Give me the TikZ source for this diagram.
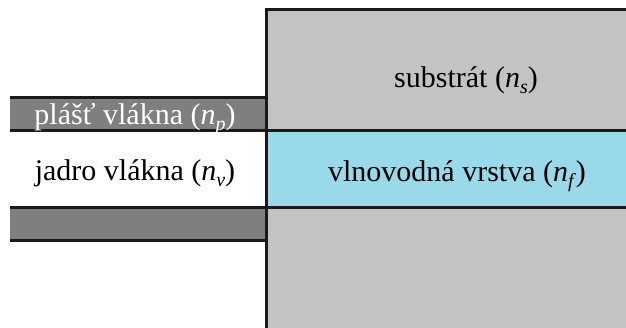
\documentclass[tikz,border=0pt]{standalone}
\usepackage{fontspec}
\setmainfont{Liberation Serif}
\newfontfamily\timesfam{Liberation Serif}
\definecolor{cladgray}{HTML}{7F7F7F}
\definecolor{subgray}{HTML}{C3C3C3}
\definecolor{filmblue}{HTML}{99D9EA}
\definecolor{edge}{HTML}{1A1A1A}
% italic symbol with a lowered italic index
\newcommand{\ridx}[2]{\textit{#1}\raisebox{-0.22em}{\fontsize{20}{24}\selectfont\textit{#2}}}
\tikzset{
  border/.style={draw=edge, line width=3pt},
  regiontext/.style={anchor=base, inner sep=0pt, font=\timesfam\fontsize{30}{36}\selectfont}
}
\begin{document}
\begin{tikzpicture}[x=1pt, y=-1pt]
\useasboundingbox (0,0) rectangle (626,327);
% substrate block and guiding film
\fill[subgray] (266,9) rectangle (627,328);
\fill[filmblue] (266,130) rectangle (627,207);
% fibre cladding bands
\fill[cladgray] (10,97) rectangle (266,130);
\fill[cladgray] (10,207) rectangle (266,240);
% outlines
\coordinate (tl) at (266,9);
\coordinate (tr) at (627,9);
\coordinate (bl) at (266,328);
\draw[border] (tr) -- (tl) -- (bl);
\draw[border] (10,97) -- (266,97);
\draw[border] (10,130) -- (627,130);
\draw[border] (10,207) -- (627,207);
\draw[border] (10,240) -- (266,240);
% region labels
\node[regiontext, text=white] (clad) at (135,124) {plášť vlákna (\ridx{n}{p})};
\node[regiontext] (core) at (135,180) {jadro vlákna (\ridx{n}{v})};
\node[regiontext] (subs) at (466,87) {substrát (\ridx{n}{s})};
\node[regiontext] (film) at (457,181) {vlnovodná vrstva (\ridx{n}{f})};
\end{tikzpicture}
\end{document}
